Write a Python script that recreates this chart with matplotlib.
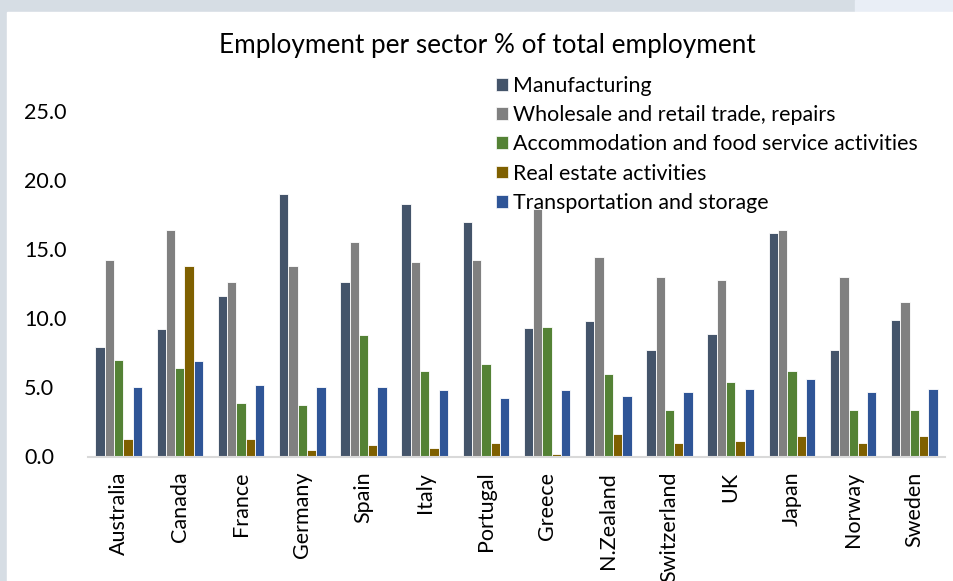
import numpy as np
import matplotlib.pyplot as plt
from matplotlib.patches import Rectangle, Patch

plt.rcParams['font.family'] = ['Lato', 'DejaVu Sans']

countries = ['Australia', 'Canada', 'France', 'Germany', 'Spain', 'Italy', 'Portugal',
             'Greece', 'N.Zealand', 'Switzerland', 'UK', 'Japan', 'Norway', 'Sweden']

sectors = ['Manufacturing', 'Wholesale and retail trade, repairs',
           'Accommodation and food service activities', 'Real estate activities',
           'Transportation and storage']

manufacturing = [7.9, 9.2, 11.6, 19.0, 12.6, 18.3, 17.0, 9.3, 9.8, 7.7, 8.9, 16.2, 7.7, 9.9]
wholesale = [14.2, 16.4, 12.6, 13.8, 15.5, 14.1, 14.2, 17.9, 14.4, 13.0, 12.8, 16.4, 13.0, 11.2]
accommodation = [7.0, 6.4, 3.9, 3.7, 8.8, 6.2, 6.7, 9.4, 6.0, 3.4, 5.4, 6.2, 3.4, 3.4]
real_estate = [1.3, 13.8, 1.3, 0.5, 0.8, 0.6, 1.0, 0.2, 1.6, 1.0, 1.1, 1.5, 1.0, 1.5]
transport = [5.0, 6.9, 5.2, 5.0, 5.0, 4.8, 4.2, 4.8, 4.4, 4.7, 4.9, 5.6, 4.7, 4.9]

series = [manufacturing, wholesale, accommodation, real_estate, transport]
colors = ['#44546A', '#808080', '#548235', '#7F6000', '#2F5597']

fig = plt.figure(figsize=(9.54, 5.81), dpi=100)
fig.patch.set_facecolor('#d6dde4')
# white panel with a lighter strip in the top right corner
fig.add_artist(Rectangle((855 / 954, 1 - 12 / 581), 99 / 954, 12 / 581,
                         transform=fig.transFigure, color='#e9eef6', zorder=0))
fig.add_artist(Rectangle((7 / 954, 0), 947 / 954, 1 - 12 / 581,
                         transform=fig.transFigure, color='white', zorder=0))

ax = fig.add_axes([88 / 954, 1 - 456.5 / 581, 857 / 954, 345.5 / 581])
ax.set_facecolor('none')

x = np.arange(len(countries))
w = 0.152
for i, (vals, c) in enumerate(zip(series, colors)):
    ax.bar(x + (i - 2) * w, vals, width=w, color=c, edgecolor='white', linewidth=0.6)

ax.set_xlim(-0.5, len(countries) - 0.5)
ax.set_ylim(0, 25)
ax.set_yticks(np.arange(0, 26, 5))
ax.set_yticklabels([f'{v:.1f}' for v in np.arange(0, 26, 5)], fontsize=15.5, ha='left')
ax.tick_params(axis='y', length=0, pad=46)
ax.set_xticks(x)
ax.set_xticklabels(countries, rotation=90, fontsize=15.5, va='top')
ax.tick_params(axis='x', length=0, pad=11)

for s in ['top', 'right', 'left']:
    ax.spines[s].set_visible(False)
ax.spines['bottom'].set_color('#d9d9d9')
ax.spines['bottom'].set_linewidth(1.5)

fig.text(487 / 954, 1 - 46 / 581, 'Employment per sector % of total employment',
         ha='center', va='center', fontsize=18.8)

handles = [Patch(facecolor=c, edgecolor='white', linewidth=0.5) for c in colors]
fig.legend(handles, sectors, loc='upper left', bbox_to_anchor=(496 / 954, 1 - 76 / 581),
           frameon=False, fontsize=15.4, handlelength=0.55, handleheight=0.55,
           handletextpad=0.25, labelspacing=0.43, borderaxespad=0, borderpad=0)

fig.savefig('out.png', dpi=100)
